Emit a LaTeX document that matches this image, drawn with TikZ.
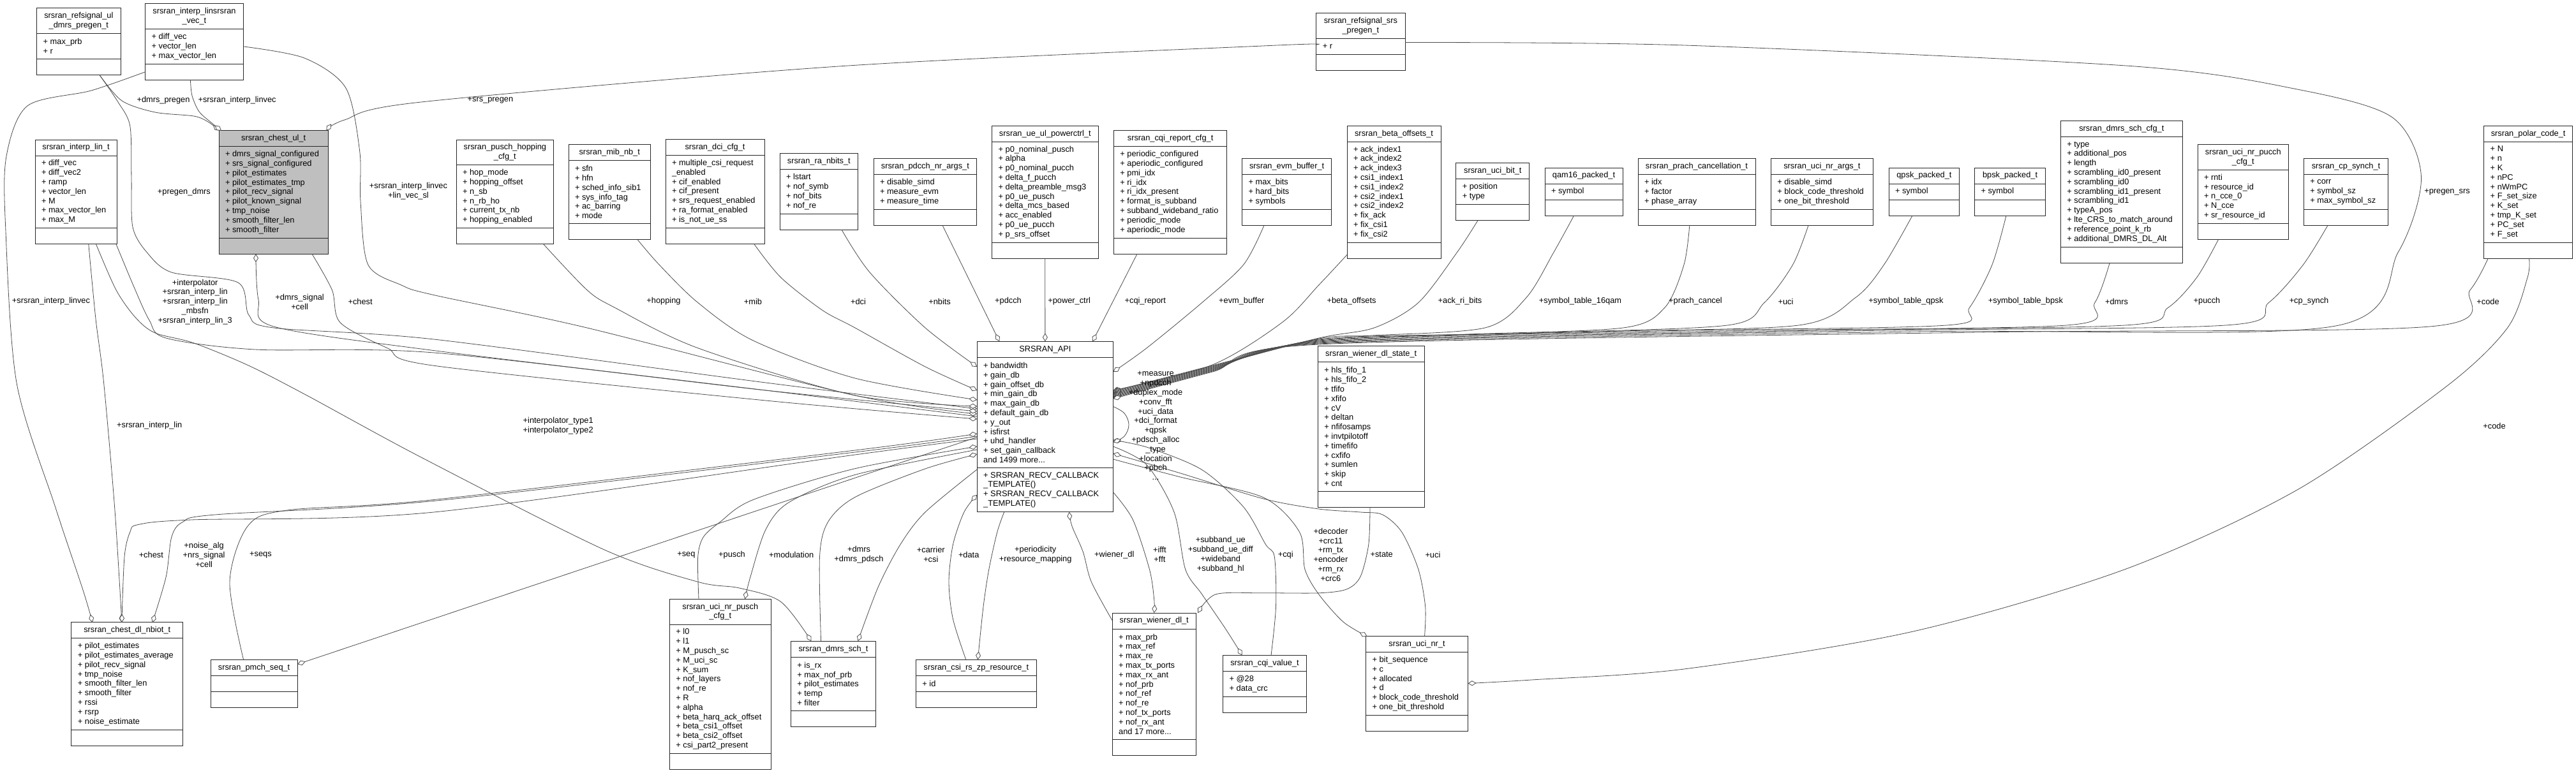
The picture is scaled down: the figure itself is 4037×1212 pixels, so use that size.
\documentclass[tikz,border=0pt]{standalone}
\usepackage{fontspec}
\setmainfont{Liberation Sans}
\usetikzlibrary{arrows.meta,calc}
\tikzset{
 umlbox/.style={draw=black!85, line width=1pt, inner sep=0pt, outer sep=0pt},
 boxline/.style={draw=black!85, line width=1pt},
 txt/.style={inner sep=0pt, outer sep=0pt, font=\fontsize{12.8}{14.8}\selectfont, text=black},
 lbl/.style={txt, align=center},
 edge/.style={draw=black!70, line width=0.8pt},
 agg/.style={edge, -{Diamond[length=13pt,width=8pt,fill=white]}},
}
\newcommand\umlfill{white}
\newcommand\umlmeth{}
% name x y w ntitle title nattr attrs nmeth
\newcommand{\umlbox}[9]{%
  \pgfmathsetmacro\hT{14.8*#5+10.2}%
  \pgfmathsetmacro\hA{14.8*max(#7,1)+10.2}%
  \pgfmathsetmacro\hM{14.8*max(#9,1)+10.2}%
  \pgfmathsetmacro\hH{\hT+\hA+\hM}%
  \pgfmathsetmacro\hTA{\hT+\hA}%
  \node[umlbox, fill=\umlfill, minimum width=#4pt, minimum height=\hH pt, anchor=north west] (#1) at (#2,#3) {};
  \draw[boxline] ($(#1.north west)+(0,\hT)$) -- ($(#1.north east)+(0,\hT)$);
  \draw[boxline] ($(#1.north west)+(0,\hTA)$) -- ($(#1.north east)+(0,\hTA)$);
  \node[txt, align=center] (#1-t) at ($(#1.north)+(0,\hT/2)$) {#6};
  \ifnum#7>0\relax \node[txt, align=left, anchor=west] (#1-a) at ($(#1.north west)+(10,\hT+\hA/2)$) {#8};\fi
  \ifnum#9>0\relax \node[txt, align=left, anchor=west] (#1-m) at ($(#1.north west)+(10,\hTA+\hM/2)$) {\umlmeth};\fi
}
\begin{document}
\catcode`\_=12
\begin{tikzpicture}[x=1pt,y=-1pt]
\fill[white] (0,0) rectangle (4037,1212);
\useasboundingbox (0,0) rectangle (4037,1212);

% ---------------- boxes ----------------
\umlbox{refUL}{57.7}{13}{131.3}{2}{srsran_refsignal_ul\\_dmrs_pregen_t}{2}{+ max_prb\\+ r}{0}
\umlbox{interpVec}{227.7}{5.9}{153.5}{2}{srsran_interp_linsrsran\\_vec_t}{3}{+ diff_vec\\+ vector_len\\+ max_vector_len}{0}
\def\umlfill{black!25}
\umlbox{chestUL}{343}{204.8}{171.3}{1}{srsran_chest_ul_t}{9}{+ dmrs_signal_configured\\+ srs_signal_configured\\+ pilot_estimates\\+ pilot_estimates_tmp\\+ pilot_recv_signal\\+ pilot_known_signal\\+ tmp_noise\\+ smooth_filter_len\\+ smooth_filter}{0}
\def\umlfill{white}
\umlbox{interpLin}{55}{219}{128}{1}{srsran_interp_lin_t}{7}{+ diff_vec\\+ diff_vec2\\+ ramp\\+ vector_len\\+ M\\+ max_vector_len\\+ max_M}{0}
\umlbox{puschHop}{715}{219}{152.7}{2}{srsran_pusch_hopping\\_cfg_t}{6}{+ hop_mode\\+ hopping_offset\\+ n_sb\\+ n_rb_ho\\+ current_tx_nb\\+ hopping_enabled}{0}
\umlbox{mibNB}{891}{226.6}{128.5}{1}{srsran_mib_nb_t}{6}{+ sfn\\+ hfn\\+ sched_info_sib1\\+ sys_info_tag\\+ ac_barring\\+ mode}{0}
\umlbox{dciCfg}{1043}{218.7}{155}{1}{srsran_dci_cfg_t}{7}{+ multiple_csi_request\\_enabled\\+ cif_enabled\\+ cif_present\\+ srs_request_enabled\\+ ra_format_enabled\\+ is_not_ue_ss}{0}
\umlbox{raNbits}{1222}{240.8}{122.7}{1}{srsran_ra_nbits_t}{4}{+ lstart\\+ nof_symb\\+ nof_bits\\+ nof_re}{0}
\umlbox{pdcch}{1369}{248.7}{161.8}{1}{srsran_pdcch_nr_args_t}{3}{+ disable_simd\\+ measure_evm\\+ measure_time}{0}
\umlbox{powerctrl}{1554.6}{197.3}{166.4}{1}{srsran_ue_ul_powerctrl_t}{10}{+ p0_nominal_pusch\\+ alpha\\+ p0_nominal_pucch\\+ delta_f_pucch\\+ delta_preamble_msg3\\+ p0_ue_pusch\\+ delta_mcs_based\\+ acc_enabled\\+ p0_ue_pucch\\+ p_srs_offset}{0}
\umlbox{cqiReport}{1745.4}{204.8}{177.4}{1}{srsran_cqi_report_cfg_t}{9}{+ periodic_configured\\+ aperiodic_configured\\+ pmi_idx\\+ ri_idx\\+ ri_idx_present\\+ format_is_subband\\+ subband_wideband_ratio\\+ periodic_mode\\+ aperiodic_mode}{0}
\umlbox{evm}{1946.6}{248.7}{140}{1}{srsran_evm_buffer_t}{3}{+ max_bits\\+ hard_bits\\+ symbols}{0}
\umlbox{srsPregen}{2062.8}{20.6}{139.2}{2}{srsran_refsignal_srs\\_pregen_t}{1}{+ r}{0}
\umlbox{beta}{2111}{197.3}{147}{1}{srsran_beta_offsets_t}{10}{+ ack_index1\\+ ack_index2\\+ ack_index3\\+ csi1_index1\\+ csi1_index2\\+ csi2_index1\\+ csi2_index2\\+ fix_ack\\+ fix_csi1\\+ fix_csi2}{0}
\umlbox{uciBit}{2281.8}{255.8}{115}{1}{srsran_uci_bit_t}{2}{+ position\\+ type}{0}
\umlbox{qamS}{2421}{263}{122}{1}{qam16_packed_t}{1}{+ symbol}{0}
\umlbox{prach}{2567}{248.7}{184}{1}{srsran_prach_cancellation_t}{3}{+ idx\\+ factor\\+ phase_array}{0}
\umlbox{uciArgs}{2775.3}{248.7}{160.2}{1}{srsran_uci_nr_args_t}{3}{+ disable_simd\\+ block_code_threshold\\+ one_bit_threshold}{0}
\umlbox{qpsk}{2960}{263}{110.8}{1}{qpsk_packed_t}{1}{+ symbol}{0}
\umlbox{bpsk}{3094.5}{263}{111.1}{1}{bpsk_packed_t}{1}{+ symbol}{0}
\umlbox{dmrsCfg}{3229.3}{189.8}{191}{1}{srsran_dmrs_sch_cfg_t}{11}{+ type\\+ additional_pos\\+ length\\+ scrambling_id0_present\\+ scrambling_id0\\+ scrambling_id1_present\\+ scrambling_id1\\+ typeA_pos\\+ lte_CRS_to_match_around\\+ reference_point_k_rb\\+ additional_DMRS_DL_Alt}{0}
\umlbox{uciPucch}{3444}{226.6}{142.5}{2}{srsran_uci_nr_pucch\\_cfg_t}{5}{+ rnti\\+ resource_id\\+ n_cce_0\\+ N_cce\\+ sr_resource_id}{0}
\umlbox{cpSynch}{3610.4}{248.7}{132.1}{1}{srsran_cp_synch_t}{3}{+ corr\\+ symbol_sz\\+ max_symbol_sz}{0}
\umlbox{polar}{3892.7}{197.3}{138.8}{1}{srsran_polar_code_t}{10}{+ N\\+ n\\+ K\\+ nPC\\+ nWmPC\\+ F_set_size\\+ K_set\\+ tmp_K_set\\+ PC_set\\+ F_set}{0}
\def\umlmeth{+ SRSRAN_RECV_CALLBACK\\_TEMPLATE()\\+ SRSRAN_RECV_CALLBACK\\_TEMPLATE()}
\umlbox{api}{1531.2}{535.4}{213.3}{1}{SRSRAN_API}{11}{+ bandwidth\\+ gain_db\\+ gain_offset_db\\+ min_gain_db\\+ max_gain_db\\+ default_gain_db\\+ y_out\\+ isfirst\\+ uhd_handler\\+ set_gain_callback\\and 1499 more...}{4}
\def\umlmeth{}
\umlbox{wienerState}{2065.4}{542.9}{166.6}{1}{srsran_wiener_dl_state_t}{13}{+ hls_fifo_1\\+ hls_fifo_2\\+ tfifo\\+ xfifo\\+ cV\\+ deltan\\+ nfifosamps\\+ invtpilotoff\\+ timefifo\\+ cxfifo\\+ sumlen\\+ skip\\+ cnt}{0}
\umlbox{chestNbiot}{111.9}{975.9}{174.7}{1}{srsran_chest_dl_nbiot_t}{9}{+ pilot_estimates\\+ pilot_estimates_average\\+ pilot_recv_signal\\+ tmp_noise\\+ smooth_filter_len\\+ smooth_filter\\+ rssi\\+ rsrp\\+ noise_estimate}{0}
\umlbox{pmchSeq}{330}{1034.4}{136.2}{1}{srsran_pmch_seq_t}{0}{}{0}
\umlbox{uciPusch}{1049.4}{939.2}{158.7}{2}{srsran_uci_nr_pusch\\_cfg_t}{13}{+ l0\\+ l1\\+ M_pusch_sc\\+ M_uci_sc\\+ K_sum\\+ nof_layers\\+ nof_re\\+ R\\+ alpha\\+ beta_harq_ack_offset\\+ beta_csi1_offset\\+ beta_csi2_offset\\+ csi_part2_present}{0}
\umlbox{dmrsSch}{1239.4}{1005.2}{133.1}{1}{srsran_dmrs_sch_t}{5}{+ is_rx\\+ max_nof_prb\\+ pilot_estimates\\+ temp\\+ filter}{0}
\umlbox{csiZp}{1435.4}{1034.4}{189}{1}{srsran_csi_rs_zp_resource_t}{1}{+ id}{0}
\umlbox{wienerDL}{1743.2}{961}{131}{1}{srsran_wiener_dl_t}{11}{+ max_prb\\+ max_ref\\+ max_re\\+ max_tx_ports\\+ max_rx_ant\\+ nof_prb\\+ nof_ref\\+ nof_re\\+ nof_tx_ports\\+ nof_rx_ant\\and 17 more...}{0}
\umlbox{cqiValue}{1916.7}{1027.4}{130.5}{1}{srsran_cqi_value_t}{2}{+ @28\\+ data_crc}{0}
\umlbox{uciNR}{2140.5}{997.7}{160}{1}{srsran_uci_nr_t}{6}{+ bit_sequence\\+ c\\+ allocated\\+ d\\+ block_code_threshold\\+ one_bit_threshold}{0}

% ---------------- connectors ----------------
% top-left group
\draw[agg] plot[smooth,tension=0.5] coordinates {($(refUL.south west)+(98.3,0)$) (191,158) (243,176) (303.6,182) (326,191) ($(chestUL.north west)+(1,0)$)};
\draw[agg] plot[smooth,tension=0.5] coordinates {($(interpVec.south west)+(70.7,0)$) (301,150) (312,175) (332,193) ($(chestUL.north west)+(4,0)$)};
\draw[agg] plot[smooth,tension=0.5] coordinates {($(srsPregen.north west)+(0,49.4)$) (1990,71.5) (1320,103.6) (660,160) (540,188) ($(chestUL.north east)+(-3,0)$)};
\draw[agg] plot[smooth,tension=0.5] coordinates {($(refUL.south west)+(98.3,0)$) (185,160) (203.8,197.7) (206,280) (208,356) (230,395.4) (268.9,427) (373,443) (390,494) (429,514) (680,532) (1200,600) ($(api.north west)+(0,105.6)$)};
\draw[agg] plot[smooth,tension=0.5] coordinates {($(interpVec.north east)+(0,67)$) (477,91) (542,138) (563.7,237) (565,316) (576.8,415) (629,447) (680,462.6) (920,514) (1340,620) ($(api.north west)+(0,113.6)$)};
\draw[agg] plot[smooth,tension=0.5] coordinates {($(interpVec.north west)+(0,106.8)$) (143,142) (43,166) (10,245) (8.7,356) (26,600) (86.7,795) (130,925) ($(chestNbiot.north west)+(33,0)$)};
\draw[agg] plot[smooth,tension=0.5] coordinates {($(interpLin.south west)+(83.8,0)$) (150,500) (162.6,600) (180,800) ($(chestNbiot.north west)+(79,0)$)};
\draw[agg] plot[smooth,tension=0.5] coordinates {($(interpLin.south east)+(-1,0)$) (210,450) (234,502) (260,530) (400,548) (680,553) (1200,612) ($(api.north west)+(0,109.6)$)};
\draw[agg] plot[smooth,tension=0.5] coordinates {($(interpLin.south west)+(95.5,0)$) (182,454.7) (212.5,498) (243,522) (303.6,537.8) (390,573.3) (481,620) (660,717) (946,861.5) (1093.7,912.3) (1158.7,922) (1223.7,943.5) ($(dmrsSch.north west)+(32,0)$)};
\draw[agg] plot[smooth,tension=0.5] coordinates {($(api.north west)+(0,117.6)$) (1200,612) (680,549.6) (429,512) (405,470) ($(chestUL.south west)+(58,0)$)};
\draw[agg] plot[smooth,tension=0.5] coordinates {($(chestUL.south west)+(146,0)$) (520.4,454.7) (533.4,506) (607,545.7) (680,573.3) (1200,628) ($(api.north west)+(0,121.6)$)};
% middle row, left of API
\draw[agg] plot[smooth,tension=0.5] coordinates {($(puschHop.south west)+(136.7,0)$) (920,454.7) (963.6,482.4) (1093.7,545.7) (1340,620) ($(api.north west)+(0,101.6)$)};
\draw[agg] plot[smooth,tension=0.5] coordinates {($(mibNB.south west)+(108,0)$) (1033,415) (1093.7,474.5) (1180,533.8) (1340,593) ($(api.north west)+(0,91.6)$)};
\draw[agg] plot[smooth,tension=0.5] coordinates {($(dciCfg.south west)+(138.7,0)$) (1223.7,435) (1288.8,486.4) (1340,514) (1450,575) ($(api.north west)+(0,76.6)$)};
\draw[agg] plot[smooth,tension=0.5] coordinates {($(raNbits.south west)+(97,0)$) (1363,427) (1450,514) ($(api.north west)+(0,39.6)$)};
\draw[agg] ($(pdcch.south west)+(108,0)$) -- ($(api.north west)+(35,0)$);
\draw[agg] (powerctrl.south) -- (api.north);
\draw[agg] ($(cqiReport.south west)+(36.6,0)$) -- ($(api.north west)+(181,0)$);
\draw[agg] plot[smooth,tension=0.5] coordinates {($(evm.south west)+(34.4,0)$) (1948.8,415) (1883.7,474.5) (1797,545.7) ($(api.north east)+(0,47.6)$)};
% bundle right of API
\draw[agg] plot[smooth,tension=0.5] coordinates {($(beta.south west)+(0,-6)$) (2066.7,447) (2010,505) (1900,572) ($(api.north east)+(0,76.6)$)};
\draw[agg] plot[smooth,tension=0.5] coordinates {($(uciBit.south west)+(34.2,0)$) (2283.6,395.4) (2222.8,474.5) (2153.5,514) (2067,530) (1900,573) ($(api.north east)+(0,77.8)$)};
\draw[agg] plot[smooth,tension=0.5] coordinates {($(qamS.south west)+(45.6,0)$) (2435,395.4) (2392,466.6) (2327,514) (2150,526) (2067,531) (1900,574) ($(api.north east)+(0,79)$)};
\draw[agg] plot[smooth,tension=0.5] coordinates {($(prach.south west)+(80.8,0)$) (2639,415) (2608.8,482.4) (2543.7,514) (2300,524) (2067,532) (1900,575) ($(api.north east)+(0,80.2)$)};
\draw[agg] plot[smooth,tension=0.5] coordinates {($(uciArgs.south west)+(58.7,0)$) (2809.6,415) (2765,474.5) (2707,510) (2400,522) (2067,533) (1900,576) ($(api.north east)+(0,81.4)$)};
\draw[agg] plot[smooth,tension=0.5] coordinates {($(qpsk.south west)+(37,0)$) (2952.5,415) (2907.9,466.6) (2818.6,510) (2500,520) (2067,534) (1900,577) ($(api.north east)+(0,82.6)$)};
\draw[agg] plot[smooth,tension=0.5] coordinates {($(bpsk.south west)+(49.5,0)$) (3122,415) (3086.4,482.4) (3050.7,510) (2600,519) (2067,535) (1900,578) ($(api.north east)+(0,83.8)$)};
\draw[agg] plot[smooth,tension=0.5] coordinates {($(dmrsCfg.south west)+(76.7,0)$) (3282.9,474.5) (3238.2,510) (2700,519) (2067,536) (1900,579) ($(api.north east)+(0,85)$)};
\draw[agg] plot[smooth,tension=0.5] coordinates {($(uciPucch.south west)+(32.5,0)$) (3442.7,435) (3397.6,482.4) (3330,510) (2800,519) (2067,537) (1900,580) ($(api.north east)+(0,86.2)$)};
\draw[agg] plot[smooth,tension=0.5] coordinates {($(cpSynch.south west)+(37.6,0)$) (3609.5,415) (3555.4,474.5) (3487.8,510) (2900,519) (2067,538) (1900,581) ($(api.north east)+(0,87.4)$)};
\draw[agg] plot[smooth,tension=0.5] coordinates {($(srsPregen.north east)+(0,46)$) (2640,71) (3340,103.6) (3600,140) (3749,184) (3794.4,276.8) (3758.3,395.4) (3654.6,512) (3000,520) (2067,539) (1900,582) ($(api.north east)+(0,88.6)$)};
\draw[agg] plot[smooth,tension=0.5] coordinates {($(polar.south west)+(6.3,0)$) (3871,454.7) (3807.9,512) (3100,521) (2067,540) (1900,583) ($(api.north east)+(0,89.8)$)};
\draw[agg] plot[smooth,tension=0.5] coordinates {($(polar.south west)+(70.8,0)$) (3961,435) (3929.6,514) (3835,605) (3600.5,767.8) (3330,892.7) (2997,990.3) (2640,1048.9) (2400,1066) ($(uciNR.north east)+(0,73.8)$)};
% lower right of API
\draw[agg] plot[smooth,tension=0.5] coordinates {($(api.north east)+(0,184.6)$) (1850,748) (1980,780) (2036.4,834) (2045,892.7) (2066.7,931.8) (2105,975) ($(uciNR.north west)+(2,0)$)};
\draw[agg] plot[smooth,tension=0.5] coordinates {($(uciNR.north west)+(92,0)$) (2233.7,951.3) (2222.8,892.7) (2196.8,834.2) (2166.5,806.9) (2131.8,803) (2066.7,798) (1980,782) (1850,742) ($(api.north east)+(0,175.6)$)};
\draw[agg] plot[smooth,tension=0.5] coordinates {($(wienerState.south west)+(81.6,0)$) (2144.8,853.7) (2131.8,904.4) (2110,924) (2066.7,929.8) (1980,929.8) (1905.4,931.8) ($(wienerDL.north east)+(3,0)$)};
\draw[agg] plot[smooth,tension=0.5] coordinates {($(api.south east)+(0,-31)$) (1775.3,814.7) (1801.4,892.7) (1808.7,940) ($(wienerDL.north west)+(65.5,0)$)};
\draw[agg] plot[smooth,tension=0.5] coordinates {($(wienerDL.north west)+(0,12)$) (1710.3,912.3) (1697.3,865.4) (1680,825) ($(api.south west)+(144.4,0)$)};
\draw[agg] plot[smooth,tension=0.5] coordinates {($(api.north east)+(0,164.6)$) (1797,728.8) (1840,803) (1857.7,892.7) (1883.7,931.8) (1920,985) ($(cqiValue.north west)+(30,0)$)};
\draw[agg] plot[smooth,tension=0.5] coordinates {($(cqiValue.north west)+(75.3,0)$) (1999.5,951.3) (1997.3,873) (1983.5,853.7) (1948.8,795) (1883.7,736.6) (1800,702) ($(api.north east)+(0,154.6)$)};
\draw[agg] plot[smooth,tension=0.6] coordinates {($(api.north east)+(0,102)$) (1762,648) (1769,666) (1762,684) ($(api.north east)+(0,158)$)};
% lower left of API
\draw[agg] plot[smooth,tension=0.5] coordinates {($(dmrsSch.north west)+(47.2,0)$) (1284.5,873) (1297.5,818.6) (1340,779.5) (1450,735) ($(api.north west)+(0,176.6)$)};
\draw[agg] plot[smooth,tension=0.5] coordinates {($(api.north west)+(0,200.6)$) (1450,803) (1411,853.7) (1376.4,920) ($(dmrsSch.north east)+(-28,0)$)};
\draw[agg] plot[smooth,tension=0.5] coordinates {($(uciPusch.north west)+(45.6,0)$) (1093.7,873.2) (1102.3,842) (1128.3,818.6) (1180.4,783.5) (1340,734.7) ($(api.north west)+(0,164.6)$)};
\draw[agg] plot[smooth,tension=0.5] coordinates {($(api.north west)+(0,169.6)$) (1340,744.4) (1236.8,787.4) (1200,830.3) (1176,904.4) ($(uciPusch.north west)+(118,0)$)};
\draw[agg] plot[smooth,tension=0.5] coordinates {($(pmchSeq.north west)+(51.6,0)$) (360,912.3) (388,825.2) (450,800) (680,783.5) (1340,706) ($(api.north west)+(0,144.6)$)};
\draw[agg] ($(api.north west)+(0,150)$) -- ($(pmchSeq.north east)+(0,7)$);
\draw[agg] plot[smooth,tension=0.5] coordinates {($(api.north west)+(0,148.6)$) (1340,709) (680,785.4) (338.2,806.9) (286.2,818.6) (268.9,842) (260.2,904.4) ($(chestNbiot.north west)+(127,0)$)};
\draw[agg] plot[smooth,tension=0.5] coordinates {($(api.north west)+(0,152.6)$) (1340,713) (680,803) (300,815) (216.8,822.5) (203.8,834.2) (195,873) ($(chestNbiot.north west)+(79,0)$)};
\draw[agg] plot[smooth,tension=0.5] coordinates {($(csiZp.north west)+(78.4,0)$) (1493.5,970.8) (1487,912.3) (1493.5,853.7) (1510.8,803) ($(api.south west)+(0,-27)$)};
\draw[agg] plot[smooth,tension=0.5] coordinates {($(api.south west)+(42.5,0)$) (1562.8,834.2) (1549.8,892.7) (1541,951.3) ($(csiZp.north west)+(97,0)$)};

% ---------------- labels ----------------
\node[lbl] (l01) at (256,157) {+dmrs_pregen};
\node[lbl] (l02) at (371.6,157) {+srsran_interp_linvec};
\node[lbl] (l03) at (768.4,157) {+srs_pregen};
\node[lbl] (l04) at (288.4,301) {+pregen_dmrs};
\node[lbl] (l05) at (640,300) {+srsran_interp_linvec\\+lin_vec_sl};
\node[lbl] (l06) at (3835,301) {+pregen_srs};
\node[lbl] (l07) at (80,472.5) {+srsran_interp_linvec};
\node[lbl] (l08) at (305.7,473.3) {+interpolator\\+srsran_interp_lin\\+srsran_interp_lin\\_mbsfn\\+srsran_interp_lin_3};
\node[lbl] (l09) at (469.6,473.3) {+dmrs_signal\\+cell};
\node[lbl] (l10) at (564.6,472.5) {+chest};
\node[lbl] (l11) at (1040,472.5) {+hopping};
\node[lbl] (l12) at (1180,472.5) {+mib};
\node[lbl] (l13) at (1345,472.5) {+dci};
\node[lbl] (l14) at (1472.6,472.5) {+nbits};
\node[lbl] (l15) at (1580,472.5) {+pdcch};
\node[lbl] (l16) at (1675.6,472.5) {+power_ctrl};
\node[lbl] (l17) at (1794.8,472.5) {+cqi_report};
\node[lbl] (l18) at (1945.8,472.5) {+evm_buffer};
\node[lbl] (l19) at (2118,472.5) {+beta_offsets};
\node[lbl] (l20) at (2288,472.5) {+ack_ri_bits};
\node[lbl] (l21) at (2476.5,472.5) {+symbol_table_16qam};
\node[lbl] (l22) at (2657,472.5) {+prach_cancel};
\node[lbl] (l23) at (2798.5,472.5) {+uci};
\node[lbl] (l24) at (2986.9,472.5) {+symbol_table_qpsk};
\node[lbl] (l25) at (3174.4,472.5) {+symbol_table_bpsk};
\node[lbl] (l26) at (3317,472.5) {+dmrs};
\node[lbl] (l27) at (3458.5,472.5) {+pucch};
\node[lbl] (l28) at (3618.5,472.5) {+cp_synch};
\node[lbl] (l29) at (3899,472.5) {+code};
\node[lbl] (l30) at (1811,667.5) {+measure\\+npdcch\\+duplex_mode\\+conv_fft\\+uci_data\\+dci_format\\+qpsk\\+pdsch_alloc\\_type\\+location\\+pbch\\...};
\node[lbl] (l31) at (234.2,667.5) {+srsran_interp_lin};
\node[lbl] (l32) at (874.7,667.5) {+interpolator_type1\\+interpolator_type2};
\node[lbl] (l33) at (3909,667.5) {+code};
\node[lbl] (l34) at (236.8,869.7) {+chest};
\node[lbl] (l35) at (319.6,869.7) {+noise_alg\\+nrs_signal\\+cell};
\node[lbl] (l36) at (408.5,869.7) {+seqs};
\node[lbl] (l37) at (1075.4,869.7) {+seq};
\node[lbl] (l38) at (1147,869.7) {+pusch};
\node[lbl] (l39) at (1240.2,869.7) {+modulation};
\node[lbl] (l40) at (1346,869.7) {+dmrs\\+dmrs_pdsch};
\node[lbl] (l41) at (1458.8,869.7) {+carrier\\+csi};
\node[lbl] (l42) at (1518.2,869.7) {+data};
\node[lbl] (l43) at (1622.7,869.7) {+periodicity\\+resource_mapping};
\node[lbl] (l44) at (1746.3,869.7) {+wiener_dl};
\node[lbl] (l45) at (1817.4,869.7) {+ifft\\+fft};
\node[lbl] (l46) at (1912.8,869.7) {+subband_ue\\+subband_ue_diff\\+wideband\\+subband_hl};
\node[lbl] (l47) at (2014.7,869.7) {+cqi};
\node[lbl] (l48) at (2085.4,869.7) {+decoder\\+crc11\\+rm_tx\\+encoder\\+rm_rx\\+crc6};
\node[lbl] (l49) at (2165.2,869.7) {+state};
\node[lbl] (l50) at (2245.4,869.7) {+uci};
\end{tikzpicture}
\end{document}
